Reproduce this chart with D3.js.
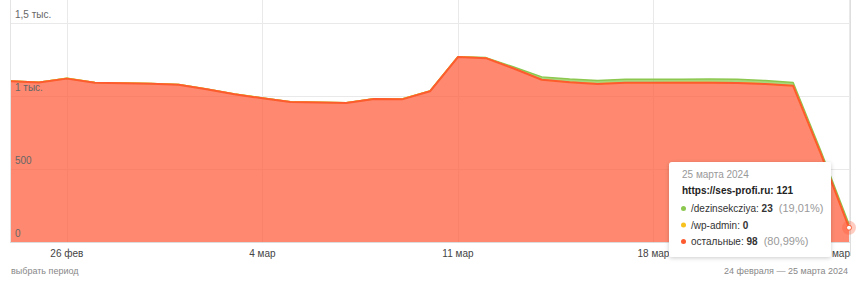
<!DOCTYPE html>
<html>
<head>
<meta charset="utf-8">
<script src="https://cdn.jsdelivr.net/npm/d3@7"></script>
<style>
  body { margin: 0; background: #fff; }
  svg { display: block; font-family: "Liberation Sans", Arial, sans-serif; }
</style>
</head>
<body>
<div id="chart"></div>
<script>
// days on the x axis
const days = ['2024-02-24','2024-02-25','2024-02-26','2024-02-27','2024-02-28','2024-02-29',
  '2024-03-01','2024-03-02','2024-03-03','2024-03-04','2024-03-05','2024-03-06','2024-03-07',
  '2024-03-08','2024-03-09','2024-03-10','2024-03-11','2024-03-12','2024-03-13','2024-03-14',
  '2024-03-15','2024-03-16','2024-03-17','2024-03-18','2024-03-19','2024-03-20','2024-03-21',
  '2024-03-22','2024-03-23','2024-03-24','2024-03-25']

// series values
const others   = [1101,1092,1119,1090,1087,1084,1077,1046,1012,984,959,955,952,979,977,1032,
                  1267,1259,1188,1111,1094,1083,1090,1090,1091,1091,1089,1082,1070,600,98]
const wpAdmin  = [2,2,2,2,2,2,2,2,2,2,2,2,2,2,2,2,2,2,1,1,1,1,1,1,1,1,1,1,1,0,0]
const dezinsek = [0,0,0,0,0,0,0,0,0,0,0,0,0,0,0,0,0,2,10,19,21,22,23,23,23,24,24,23,22,20,23]

const yTicks = [0, 500, 1000, 1500]
const yTickLabels = ['0', '500', '1 тыс.', '1,5 тыс.']
const xTicks = ['2024-02-26','2024-03-04','2024-03-11','2024-03-18','2024-03-25']
const xTickLabels = ['26 фев', '4 мар', '11 мар', '18 мар', '25 мар']

const width = 861, height = 285
const plot = { left: 11, right: 849, top: 0, bottom: 242 }

const parse = d3.timeParse('%Y-%m-%d')
const data = days.map((d, i) => ({
  date: parse(d), others: others[i], wp: wpAdmin[i], dez: dezinsek[i]
}))

const svg = d3.select('#chart').append('svg')
  .attr('width', width)
  .attr('height', height)

const x = d3.scaleTime()
  .domain(d3.extent(data, d => d.date))
  .range([plot.left, plot.right])
const y = d3.scaleLinear()
  .domain([0, 1500])
  .range([plot.bottom, 23])

// grid
const grid = svg.append('g')
grid.selectAll('.hg').data(yTicks).join('line')
  .attr('x1', plot.left).attr('x2', plot.right + 1)
  .attr('y1', d => Math.round(y(d)) + 0.5).attr('y2', d => Math.round(y(d)) + 0.5)
  .attr('stroke', '#e9e9e9')
grid.selectAll('.vg').data(xTicks).join('line')
  .attr('x1', d => Math.round(x(parse(d))) + 0.5).attr('x2', d => Math.round(x(parse(d))) + 0.5)
  .attr('y1', plot.top).attr('y2', plot.bottom)
  .attr('stroke', '#e9e9e9')
grid.append('line').attr('x1', plot.left - 0.5).attr('x2', plot.left - 0.5)
  .attr('y1', plot.top).attr('y2', plot.bottom).attr('stroke', '#e4e4e4')

// stacking: others at bottom, then wp-admin, then dezinsekcziya
const stack = d3.stack().keys(['others', 'wp', 'dez'])
const series = stack(data)
const colors = {
  others: { fill: 'rgba(255,87,51,0.7)', stroke: '#fd5a2f' },
  wp:     { fill: 'rgba(250,200,30,0.7)', stroke: '#f7c21e' },
  dez:    { fill: 'rgba(140,200,80,0.75)', stroke: '#8cc84f' }
}

const area = d3.area()
  .x(d => x(d.data.date))
  .y0(d => y(d[0]))
  .y1(d => y(d[1]))
const line = d3.line()
  .x(d => x(d.data.date))
  .y(d => y(d[1]))

svg.append('g').selectAll('path').data(series).join('path')
  .attr('d', area)
  .attr('fill', s => colors[s.key].fill)
// lines top-down so the bottom series' line wins where the upper ones are empty
svg.append('g').selectAll('path').data(series.slice().reverse()).join('path')
  .attr('d', line)
  .attr('fill', 'none')
  .attr('stroke', s => colors[s.key].stroke)
  .attr('stroke-width', s => s.key === 'others' ? 2 : 1.5)
  .attr('stroke-linejoin', 'round')

svg.append('line').attr('x1', plot.left - 1).attr('x2', plot.right + 1)
  .attr('y1', plot.bottom + 0.5).attr('y2', plot.bottom + 0.5).attr('stroke', '#dcdcdc')
svg.append('line').attr('x1', plot.right + 1.5).attr('x2', plot.right + 1.5)
  .attr('y1', plot.top).attr('y2', plot.bottom + 14).attr('stroke', '#dedede')

// y labels sit above the grid lines
svg.append('g').selectAll('text').data(yTicks).join('text')
  .attr('x', 15)
  .attr('y', d => y(d) - 5)
  .attr('fill', '#666')
  .style('font-size', '10px')
  .text((d, i) => yTickLabels[i])

// x labels
svg.append('g').selectAll('text').data(xTicks).join('text')
  .attr('x', d => x(parse(d)))
  .attr('y', 257)
  .attr('text-anchor', (d, i) => i === xTicks.length - 1 ? 'end' : 'middle')
  .attr('dx', (d, i) => i === xTicks.length - 1 ? 1 : 0)
  .attr('fill', '#444')
  .style('font-size', '10px')
  .text((d, i) => xTickLabels[i])

svg.append('text').attr('x', 11).attr('y', 274)
  .attr('fill', '#888').style('font-size', '9px').text('выбрать период')
svg.append('text').attr('x', 848).attr('y', 274).attr('text-anchor', 'end')
  .attr('fill', '#888').style('font-size', '9px').text('24 февраля — 25 марта 2024')

// hover marker on the last point
const last = series[0][series[0].length - 1]
const lx = x(last.data.date), ly = y(last[1])
svg.append('circle').attr('cx', lx).attr('cy', ly).attr('r', 7)
  .attr('fill', 'rgba(255,87,51,0.3)')
svg.append('circle').attr('cx', lx).attr('cy', ly).attr('r', 2.5)
  .attr('fill', '#fff').attr('stroke', '#fd5a2f').attr('stroke-width', 1)

// tooltip
const defs = svg.append('defs')
const filter = defs.append('filter').attr('id', 'shadow')
  .attr('x', '-20%').attr('y', '-20%').attr('width', '140%').attr('height', '140%')
filter.append('feDropShadow').attr('dx', 0).attr('dy', 1).attr('stdDeviation', 2)
  .attr('flood-color', '#000').attr('flood-opacity', 0.2)

const total = others[30] + wpAdmin[30] + dezinsek[30]
const tip = svg.append('g').attr('transform', 'translate(669,162)')
tip.append('rect').attr('width', 162).attr('height', 95).attr('rx', 3)
  .attr('fill', '#fff').attr('filter', 'url(#shadow)')
tip.append('text').attr('x', 13).attr('y', 16).attr('fill', '#999')
  .style('font-size', '10px').text('25 марта 2024')
tip.append('text').attr('x', 13).attr('y', 32).attr('fill', '#222')
  .style('font-size', '10px').style('font-weight', 'bold')
  .text('https://ses-profi.ru: ' + total)

const rows = [
  { name: '/dezinsekcziya', v: dezinsek[30], c: colors.dez.stroke, pct: true },
  { name: '/wp-admin', v: wpAdmin[30], c: colors.wp.stroke, pct: false },
  { name: 'остальные', v: others[30], c: colors.others.stroke, pct: true }
]
const fmt = v => d3.format('.2f')(v).replace('.', ',')
rows.forEach((r, i) => {
  const yy = 50 + i * 16.5
  tip.append('circle').attr('cx', 14.5).attr('cy', yy - 3.5).attr('r', 2.5).attr('fill', r.c)
  const t = tip.append('text').attr('x', 22).attr('y', yy).attr('fill', '#333')
    .style('font-size', '10px')
  t.append('tspan').text(r.name + ': ')
  t.append('tspan').style('font-weight', 'bold').text(r.v)
  if (r.pct) {
    t.append('tspan').attr('fill', '#999').style('font-size', '11px')
      .text('\u00a0 (' + fmt(r.v / total * 100) + '%)')
  }
})
</script>
</body>
</html>
